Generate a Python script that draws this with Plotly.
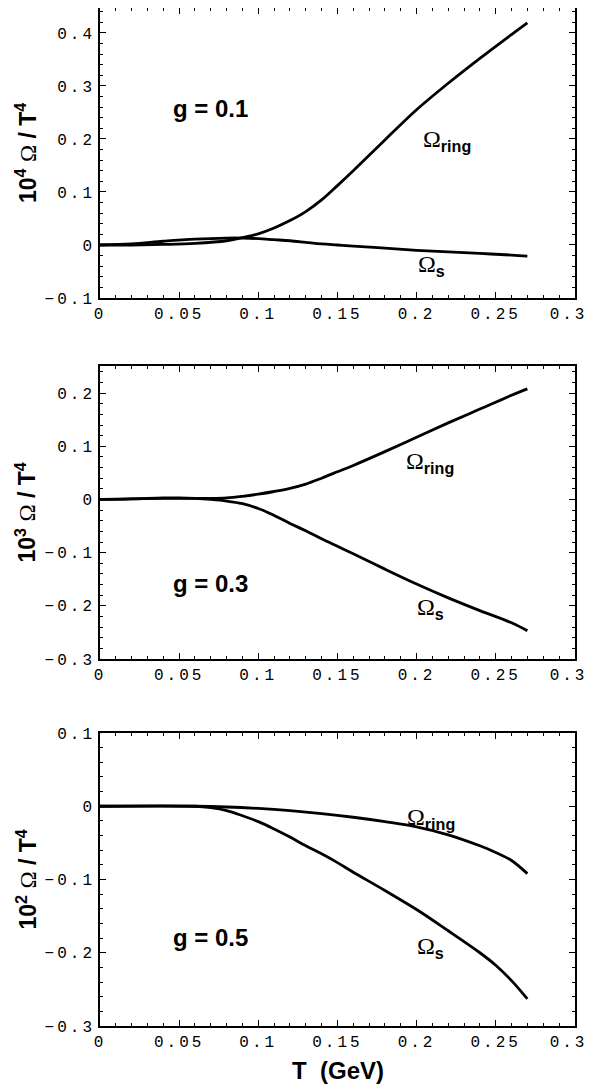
import plotly.graph_objects as go

# ---- data ----
T_ring1 = [0, 0.02, 0.04, 0.06, 0.08, 0.09, 0.10, 0.11, 0.12, 0.13, 0.14, 0.15, 0.16, 0.18, 0.20, 0.22, 0.24, 0.26, 0.27]
ring1 = [0, 0.0, 0.001, 0.003, 0.008, 0.014, 0.021, 0.032, 0.046, 0.063, 0.085, 0.112, 0.140, 0.198, 0.255, 0.305, 0.352, 0.397, 0.419]
T_s1 = [0, 0.02, 0.04, 0.06, 0.08, 0.09, 0.10, 0.11, 0.12, 0.13, 0.14, 0.15, 0.16, 0.18, 0.20, 0.22, 0.24, 0.26, 0.27]
s1 = [0, 0.002, 0.007, 0.011, 0.013, 0.013, 0.012, 0.010, 0.008, 0.005, 0.002, 0.0, -0.002, -0.006, -0.010, -0.013, -0.016, -0.019, -0.021]

T_ring2 = [0, 0.04, 0.06, 0.07, 0.08, 0.09, 0.10, 0.11, 0.12, 0.13, 0.14, 0.15, 0.16, 0.18, 0.20, 0.22, 0.24, 0.26, 0.27]
ring2 = [0, 0.002, 0.002, 0.002, 0.003, 0.006, 0.010, 0.015, 0.021, 0.029, 0.040, 0.052, 0.064, 0.090, 0.117, 0.144, 0.170, 0.196, 0.208]
T_s2 = [0, 0.02, 0.04, 0.05, 0.06, 0.07, 0.08, 0.09, 0.10, 0.11, 0.12, 0.13, 0.14, 0.15, 0.16, 0.18, 0.20, 0.22, 0.24, 0.26, 0.27]
s2 = [0, 0.001, 0.003, 0.003, 0.002, 0.0, -0.003, -0.008, -0.017, -0.030, -0.045, -0.059, -0.074, -0.088, -0.102, -0.131, -0.159, -0.185, -0.209, -0.232, -0.247]

T_ring3 = [0, 0.06, 0.08, 0.10, 0.12, 0.14, 0.16, 0.18, 0.20, 0.22, 0.24, 0.25, 0.26, 0.27]
ring3 = [0, 0.0, -0.001, -0.003, -0.006, -0.010, -0.015, -0.021, -0.028, -0.039, -0.054, -0.063, -0.074, -0.092]
T_s3 = [0, 0.06, 0.07, 0.08, 0.09, 0.10, 0.11, 0.12, 0.13, 0.14, 0.15, 0.16, 0.18, 0.20, 0.22, 0.24, 0.25, 0.26, 0.27]
s3 = [0, 0.0, -0.002, -0.006, -0.013, -0.021, -0.031, -0.042, -0.054, -0.065, -0.077, -0.090, -0.115, -0.141, -0.170, -0.200, -0.217, -0.238, -0.263]

x_tickvals = [0, 0.05, 0.1, 0.15, 0.2, 0.25, 0.3]
x_ticktext = ["0", "0.05", "0.1", "0.15", "0.2", "0.25", "0.3\u00a0"]
y1_tickvals = [-0.1, 0, 0.1, 0.2, 0.3, 0.4]
y1_ticktext = ["\u22120.1", "0", "0.1", "0.2", "0.3", "0.4"]
y2_tickvals = [-0.3, -0.2, -0.1, 0, 0.1, 0.2]
y2_ticktext = ["\u22120.3", "\u22120.2", "\u22120.1", "0", "0.1", "0.2"]
y3_tickvals = [-0.3, -0.2, -0.1, 0, 0.1]
y3_ticktext = ["\u22120.3", "\u22120.2", "\u22120.1", "0", "0.1"]
y_ranges = [[-0.1, 0.447], [-0.3, 0.251], [-0.3, 0.1]]
g_labels = ["g = 0.1", "g = 0.3", "g = 0.5"]
powers = ["4", "3", "2"]

# ---- styling ----
MONO = "Courier New, Liberation Mono, monospace"
SANS = "Arial, Liberation Sans, Helvetica, sans-serif"
SERIF = "Times New Roman, Liberation Serif, serif"
LS = "letter-spacing:3px"

def spaced(t):
    return f'<span style="{LS}">{t}</span>'

fig = go.Figure()
line = dict(color="black", width=2.8)
pairs = [(T_ring1, ring1, "x", "y"), (T_s1, s1, "x", "y"),
         (T_ring2, ring2, "x2", "y2"), (T_s2, s2, "x2", "y2"),
         (T_ring3, ring3, "x3", "y3"), (T_s3, s3, "x3", "y3")]
for xs, ys, xa, ya in pairs:
    fig.add_trace(go.Scatter(x=xs, y=ys, mode="lines", line=line, xaxis=xa, yaxis=ya,
                             line_shape="spline", hoverinfo="skip"))

# the page body adds an 8px offset; figure coordinates = reference pixels - 8
OFF = 8
W, H = 592 - OFF, 1085 - OFF
mt = 0
bottom_frame = 1026 - OFF
mb = H - bottom_frame
ph = H - mt - mb
def py(pix):
    return 1 - (pix - OFF - mt) / ph

L = 100 - OFF
R = 575 - OFF
pw = R - L
def px(pix):
    return (pix - OFF - L) / pw

domains = [[py(298), 1.0], [py(659), py(366)], [0.0, py(733)]]
ytv = [y1_tickvals, y2_tickvals, y3_tickvals]
ytt = [y1_ticktext, y2_ticktext, y3_ticktext]

common_axis = dict(
    showline=True, linecolor="black", linewidth=1.6, mirror="allticks",
    ticks="inside", ticklen=6, tickwidth=1.4, tickcolor="black",
    showgrid=False, zeroline=False, automargin=False, ticklabeloverflow="allow",
    tickfont=dict(family=MONO, size=16, color="black"),
)

layout = dict(
    width=W, height=H,
    margin=dict(l=L, r=W - R, t=mt, b=mb),
    paper_bgcolor="white", plot_bgcolor="white",
    showlegend=False,
)
for i in range(3):
    s = "" if i == 0 else str(i + 1)
    layout["xaxis" + s] = dict(
        common_axis, range=[0, 0.3001], domain=[0, 1], anchor="y" + s,
        tickmode="array", tickvals=x_tickvals, ticktext=[spaced(t) for t in x_ticktext],
        minor=dict(ticks="inside", dtick=0.01, ticklen=3, tickwidth=1.2, tickcolor="black", tick0=0),
    )
    layout["yaxis" + s] = dict(
        common_axis, range=y_ranges[i], domain=domains[i], anchor="x" + s,
        tickmode="array", tickvals=ytv[i], ticktext=[spaced(t) for t in ytt[i]],
        minor=dict(ticks="inside", dtick=0.02, ticklen=3, tickwidth=1.2, tickcolor="black", tick0=0),
    )
fig.update_layout(**layout)

ann = []
g_pos = [(0.0701, 0.258), (0.0701, -0.158), (0.0701, -0.179)]
ring_pos = [(0.2192, 0.198), (0.2084, 0.070), (0.209, -0.0164)]
s_pos = [(0.2097, -0.038), (0.209, -0.205), (0.209, -0.1925)]
omega = f'<span style="font-family:{SERIF};font-weight:normal;font-size:24px">Ω</span>'
for i in range(3):
    s = "" if i == 0 else str(i + 1)
    ann.append(dict(x=g_pos[i][0], y=g_pos[i][1], xref="x" + s, yref="y" + s, text=f"<b>{g_labels[i]}</b>",
                    showarrow=False, font=dict(family=SANS, size=24, color="black")))
    ann.append(dict(x=ring_pos[i][0], y=ring_pos[i][1], xref="x" + s, yref="y" + s,
                    text=omega + "<sub><b>ring</b></sub>",
                    showarrow=False, font=dict(family=SANS, size=23, color="black")))
    ann.append(dict(x=s_pos[i][0], y=s_pos[i][1], xref="x" + s, yref="y" + s,
                    text=omega + "<sub><b>s</b></sub>",
                    showarrow=False, font=dict(family=SANS, size=23, color="black")))
    yc = sum(domains[i]) / 2
    omega_t = f'<span style="font-family:{SERIF};font-weight:normal">Ω</span>'
    ann.append(dict(x=px(26), y=yc, xref="paper", yref="paper", textangle=-90,
                    text=f"<b>10<sup>{powers[i]}</sup></b> " + omega_t + " <b>/ T<sup>4</sup></b>",
                    showarrow=False, xanchor="center", yanchor="middle",
                    font=dict(family=SANS, size=23, color="black")))
ann.append(dict(x=px(338), y=py(1070), xref="paper", yref="paper",
                text="<b>T\u00a0\u00a0(GeV)</b>", showarrow=False, xanchor="center", yanchor="middle",
                font=dict(family=SANS, size=24, color="black")))
fig.update_layout(annotations=ann)

fig.write_html("out.html")
